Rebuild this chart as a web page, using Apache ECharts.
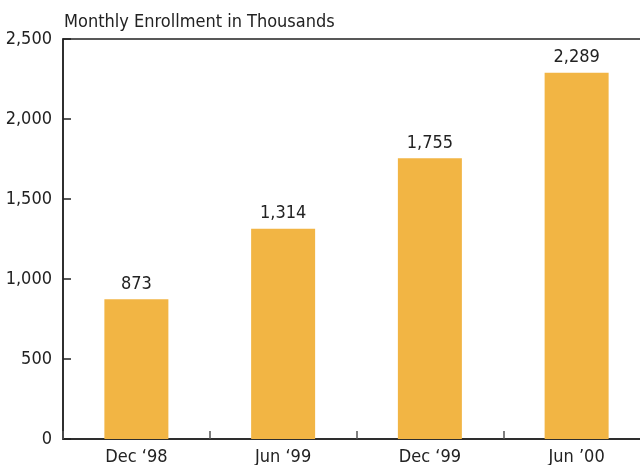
<!DOCTYPE html>
<html>
<head>
<meta charset="utf-8">
<script src="https://cdn.jsdelivr.net/npm/echarts@6/dist/echarts.min.js"></script>
<style>
  html, body { margin: 0; padding: 0; background: #fff; }
  #chart { width: 640px; height: 465px; }
</style>
</head>
<body>
<div id="chart"></div>
<script>
// enrollment data
var periods = ['Dec \u201898', 'Jun \u201899', 'Dec \u201899', 'Jun \u201900'];
var enrollment = [873, 1314, 1755, 2289];
var yTicks = [0, 500, 1000, 1500, 2000, 2500];

var fontName = '"DejaVu Sans Condensed", "Liberation Sans", sans-serif';
var inkColor = '#222';

var myChart = echarts.init(document.getElementById('chart'));

var option = {
    animation: false,
    title: {
        text: 'Monthly Enrollment in Thousands',
        left: 59,
        top: 8,
        textStyle: { fontFamily: fontName, fontSize: 18, fontWeight: 'normal', color: inkColor }
    },
    grid: {
        left: 63,
        top: 39,
        width: 587,
        height: 400,
        show: true,
        borderColor: inkColor,
        borderWidth: 1.5,
        containLabel: false,
        outerBoundsMode: 'none'   // plot runs off the right edge like the original
    },
    xAxis: {
        type: 'category',
        data: periods,
        boundaryGap: true,
        axisLine: { lineStyle: { color: inkColor, width: 1.5 } },
        axisTick: { show: true, inside: true, length: 8, lineStyle: { color: '#555', width: 1.5 } },
        axisLabel: { fontFamily: fontName, fontSize: 18, color: inkColor, margin: 9 }
    },
    yAxis: {
        type: 'value',
        min: yTicks[0],
        max: yTicks[yTicks.length - 1],
        interval: 500,
        splitLine: { show: false },
        axisLine: { show: true, lineStyle: { color: inkColor, width: 1.5 } },
        axisTick: { show: true, inside: true, length: 8, lineStyle: { color: inkColor, width: 1.5 } },
        axisLabel: {
            fontFamily: fontName, fontSize: 18, color: inkColor, margin: 11,
            formatter: function (v) { return v.toLocaleString('en-US'); }
        }
    },
    series: [{
        type: 'bar',
        data: enrollment,
        barWidth: 64,
        itemStyle: { color: '#F2B544' },
        label: {
            show: true,
            position: 'top',
            distance: 6,
            fontFamily: fontName,
            fontSize: 18,
            color: inkColor,
            formatter: function (p) { return p.value.toLocaleString('en-US'); }
        }
    }]
};

myChart.setOption(option);
</script>
</body>
</html>
